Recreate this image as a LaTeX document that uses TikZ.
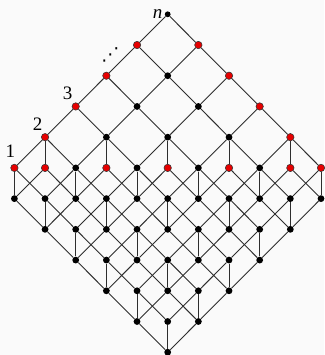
\documentclass[tikz,border=0pt]{standalone}
\usepackage{fontspec}
\setmainfont{Liberation Serif}
\newfontfamily\dotsfont{DejaVu Sans}
\usepackage{tikz}
\usetikzlibrary{positioning}
\definecolor{cEdge}{HTML}{2E2E2E}
\definecolor{cIrr}{HTML}{E60000}
\definecolor{cBack}{HTML}{FAFAFA}
\tikzset{
  elem/.style ={circle, fill=black, inner sep=0pt, minimum size=6.8pt},
  irr/.style  ={circle, fill=cIrr, draw=black!80, line width=0.55pt, inner sep=0pt, minimum size=7.4pt},
  topel/.style={circle, fill=black, inner sep=0pt, minimum size=5.8pt},
  cover/.style={draw=cEdge, line width=0.9pt},
  lbl/.style  ={inner sep=0pt, font=\fontsize{19}{22}\selectfont},
}

\begin{document}
\begin{tikzpicture}[x=30.66pt, y=30.72pt]
  \fill[cBack] (-167.7pt,14.3pt) rectangle (156.3pt,-340.7pt);
  \useasboundingbox (-167.7pt,14.3pt) rectangle (156.3pt,-340.7pt);
  % upper triangle
  \foreach \y in {0,...,4}
    \foreach \k in {0,...,\y} {
      \pgfmathtruncatemacro\x{2*\k-\y}
      \def\sty{elem}
      \ifnum\k=0 \def\sty{irr}\fi
      \ifnum\k=\y \def\sty{irr}\fi
      \ifnum\y=0 \def\sty{topel}\fi
      \node[\sty] (v\x-\y) at (\x,-\y) {};
    }
  % lower part
  \foreach \y in {5,...,11} {
    \pgfmathtruncatemacro\m{min(5,11-\y)}
    \pgfmathtruncatemacro\mm{2*\m}
    \foreach \k in {0,...,\mm} {
      \pgfmathtruncatemacro\x{\k-\m}
      \pgfmathtruncatemacro\isirr{\y==5 && (mod(abs(\x),2)==0 || abs(\x)==5)}
      \def\sty{elem}
      \ifnum\isirr=1 \def\sty{irr}\fi
      \node[\sty] (v\x-\y) at (\x,-\y) {};
    }
  }
  % covers
  \foreach \y in {0,...,10}
    \foreach \x in {-5,...,5} {
      \pgfmathtruncatemacro\srcok{abs(\x)<=min(\y,5,11-\y) && (\y>4 || mod(\x+\y,2)==0)}
      \ifnum\srcok=1
        \pgfmathtruncatemacro\yy{\y+1}
        \foreach \dx in {-1,1} {
          \pgfmathtruncatemacro\xx{\x+\dx}
          \pgfmathtruncatemacro\dstok{abs(\xx)<=min(\yy,5,11-\yy)}
          \ifnum\dstok=1 \draw[cover] (v\x-\y) -- (v\xx-\yy); \fi
        }
        \pgfmathtruncatemacro\vok{\y>3 && mod(\x+\y,2)==0 && abs(\x)<=min(5,10-\y)}
        \ifnum\vok=1 \draw[cover] (v\x-\y) -- (v\x-\yy); \fi
      \fi
    }
  \node[lbl, left=2pt of v0-0] (lbln) {\textit{n}};
  \node[lbl, above=6pt of v-5-5, xshift=-4pt] (lbl1) {1};
  \node[lbl, above=3pt of v-4-4, xshift=-7.5pt] (lbl2) {2};
  \node[lbl, above=3pt of v-3-3, xshift=-8pt] (lbl3) {3};
  \node[lbl, font=\dotsfont\fontsize{18}{20}\selectfont, above=9pt of v-2-2, xshift=4pt] (lbldots) {⋰};
\end{tikzpicture}
\end{document}
